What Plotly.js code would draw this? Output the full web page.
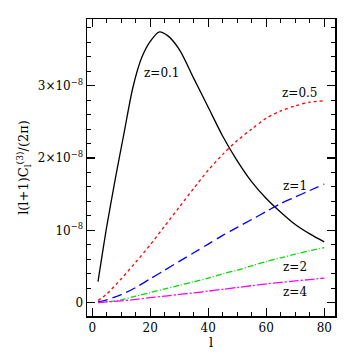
<!DOCTYPE html>
<html>
<head>
<meta charset="utf-8">
<script src="https://cdn.plot.ly/plotly-3.0.1.min.js"></script>
<style>
  html, body { margin: 0; padding: 0; background: #fff; }
  #plot { width: 354px; height: 354px; }
</style>
</head>
<body>
<div id="plot"></div>
<script>
// multipole l and l(l+1)C_l/(2pi) values
var ellZ01 = [2, 5, 8, 11, 14, 17, 20, 23, 26, 30, 35, 40, 45, 50, 55, 60, 65, 70, 75, 80];
var clZ01 = [0.29e-8, 1.05e-8, 1.72e-8, 2.35e-8, 2.97e-8, 3.38e-8, 3.61e-8, 3.74e-8, 3.69e-8, 3.50e-8, 3.10e-8, 2.70e-8, 2.30e-8, 1.96e-8, 1.67e-8, 1.44e-8, 1.25e-8, 1.08e-8, 0.95e-8, 0.84e-8];

var ell = [2, 5, 10, 15, 20, 25, 30, 35, 40, 45, 50, 55, 60, 65, 70, 75, 80];
var clZ05 = [0.03e-8, 0.12e-8, 0.33e-8, 0.56e-8, 0.80e-8, 1.06e-8, 1.32e-8, 1.58e-8, 1.83e-8, 2.05e-8, 2.24e-8, 2.40e-8, 2.55e-8, 2.65e-8, 2.72e-8, 2.77e-8, 2.79e-8];
var clZ1 = [0.01e-8, 0.04e-8, 0.11e-8, 0.21e-8, 0.33e-8, 0.45e-8, 0.57e-8, 0.69e-8, 0.81e-8, 0.93e-8, 1.04e-8, 1.15e-8, 1.26e-8, 1.37e-8, 1.46e-8, 1.55e-8, 1.64e-8];
var clZ2 = [0.0, 0.01e-8, 0.04e-8, 0.09e-8, 0.14e-8, 0.19e-8, 0.24e-8, 0.29e-8, 0.34e-8, 0.40e-8, 0.45e-8, 0.51e-8, 0.57e-8, 0.62e-8, 0.67e-8, 0.72e-8, 0.76e-8];
var clZ4 = [0.0, 0.01e-8, 0.025e-8, 0.045e-8, 0.07e-8, 0.09e-8, 0.115e-8, 0.135e-8, 0.16e-8, 0.185e-8, 0.21e-8, 0.235e-8, 0.26e-8, 0.28e-8, 0.30e-8, 0.32e-8, 0.34e-8];

var yTickVals = [0, 1e-8, 2e-8, 3e-8];
var yTickText = ['0', '10<sup>\u22128</sup>', '2\u00d710<sup>\u22128</sup>', '3\u00d710<sup>\u22128</sup>'];
var xTickVals = [0, 20, 40, 60, 80];

var font = 'DejaVu Serif, serif';

function line(x, y, color, dash) {
    return {
        x: x, y: y,
        type: 'scatter', mode: 'lines',
        line: { color: color, width: 1.3, dash: dash, shape: 'spline', smoothing: 0.8 },
        hoverinfo: 'skip'
    };
}

var data = [
    line(ellZ01, clZ01, '#000000', 'solid'),
    line(ell, clZ05, '#ff0000', '3px,3px'),
    line(ell, clZ1, '#0000ff', '10px,5px'),
    line(ell, clZ2, '#00dd00', '6px,2px,1px,2px'),
    line(ell, clZ4, '#ff00ff', '10px,2px,2px,2px')
];

// z labels
var labels = [
    { text: 'z=0.1', x: 23.9, y: 3.17e-8 },
    { text: 'z=0.5', x: 71.6, y: 2.90e-8 },
    { text: 'z=1', x: 69.9, y: 1.61e-8 },
    { text: 'z=2', x: 69.9, y: 0.50e-8 },
    { text: 'z=4', x: 69.9, y: 0.15e-8 }
];

var axisCommon = {
    showgrid: false, zeroline: false,
    showline: true, linecolor: '#000', linewidth: 1.5, mirror: 'ticks',
    ticks: 'inside', ticklen: 8, tickwidth: 1.2, tickcolor: '#000',
    tickfont: { family: font, size: 12, color: '#000' }
};

var layout = {
    width: 354, height: 354,
    margin: { l: 87, r: 19, t: 19, b: 38 },
    paper_bgcolor: '#fff', plot_bgcolor: '#fff',
    showlegend: false,
    font: { family: font, color: '#000' },
    xaxis: Object.assign({}, axisCommon, {
        range: [-1.8, 83.7],
        tickvals: xTickVals,
        minor: { dtick: 5, ticks: 'inside', ticklen: 4, tickcolor: '#000', tickwidth: 1 },
        title: { text: 'l', font: { family: font, size: 13 }, standoff: 4 }
    }),
    yaxis: Object.assign({}, axisCommon, {
        range: [-0.184e-8, 3.92e-8],
        tickvals: yTickVals,
        ticktext: yTickText,
        minor: { dtick: 0.2e-8, ticks: 'inside', ticklen: 4, tickcolor: '#000', tickwidth: 1 },
        title: { text: 'l(l+1)C<sub>l</sub><sup>(3)</sup>/(2\u03c0)', font: { family: font, size: 13 }, standoff: 6 }
    }),
    annotations: labels.map(function (a) {
        return {
            x: a.x, y: a.y, xref: 'x', yref: 'y',
            text: a.text, showarrow: false,
            font: { family: font, size: 12, color: '#000' }
        };
    })
};

Plotly.newPlot('plot', data, layout, { staticPlot: true });
</script>
</body>
</html>
